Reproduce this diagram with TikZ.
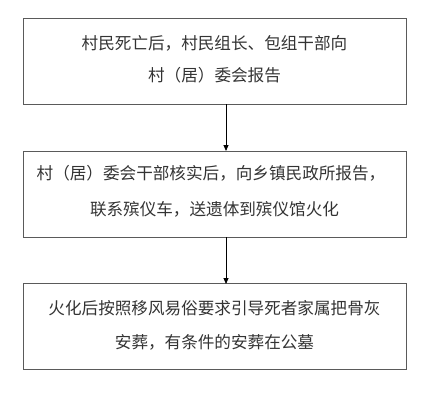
\documentclass[tikz,border=0pt]{standalone}
\usepackage{fontspec}
\newfontfamily\cjk{Noto Sans CJK SC}
\usetikzlibrary{arrows.meta}
\definecolor{txt}{HTML}{333333}
\definecolor{frame}{HTML}{5A5A5A}
\begin{document}
\begin{tikzpicture}[x=1pt,y=-1pt,
  stepbox/.style={draw=frame,line width=0.9pt,minimum width=383pt,minimum height=86pt,inner sep=0pt},
  label/.style={text=txt,font=\cjk\fontsize{16.6}{20}\selectfont,inner sep=0pt},
  conn/.style={draw=black,line width=0.8pt,-{Triangle[length=6pt,width=5pt]}}]
\useasboundingbox (0,0) rectangle (432,400);
\node[stepbox] (b1) at (214.5,61) {};
\node[stepbox] (b2) at (214.5,194) {};
\node[stepbox] (b3) at (214.5,326.5) {};
\node[label] (t11) at (214.5,43) {村民死亡后，村民组长、包组干部向};
\node[label] (t12) at (214.5,75) {村（居）委会报告};
\node[label] (t21) at (211,173) {村（居）委会干部核实后，向乡镇民政所报告，};
\node[label] (t22) at (214.5,209) {联系殡仪车，送遗体到殡仪馆火化};
\node[label] (t31) at (214.5,308) {火化后按照移风易俗要求引导死者家属把骨灰};
\node[label] (t32) at (214.5,342) {安葬，有条件的安葬在公墓};
\coordinate (a1s) at (226,104);
\coordinate (a1e) at (226,151);
\coordinate (a2s) at (226,237);
\coordinate (a2e) at (226,284);
\draw[conn] (a1s) -- (a1e);
\draw[conn] (a2s) -- (a2e);
\end{tikzpicture}
\end{document}
